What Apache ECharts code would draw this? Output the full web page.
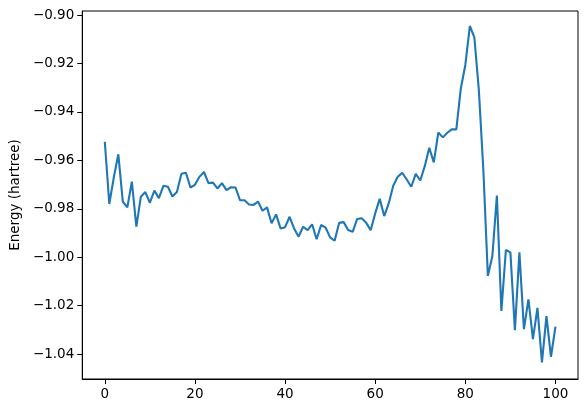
<!DOCTYPE html>
<html>
<head>
<meta charset="utf-8">
<script src="https://cdn.jsdelivr.net/npm/echarts@6/dist/echarts.min.js"></script>
<style>
html,body{margin:0;padding:0;background:#fff;}
#chart{width:587px;height:413px;}
</style>
</head>
<body>
<div id="chart"></div>
<script>
const steps = Array.from({length: 101}, (_, i) => i);
const energy = [
  -0.9523, -0.9780, -0.9670, -0.9575, -0.9771, -0.9794, -0.9688, -0.9874, -0.9750, -0.9731,
  -0.9775, -0.9725, -0.9756, -0.9705, -0.9709, -0.9749, -0.9731, -0.9655, -0.9651, -0.9712,
  -0.9701, -0.9668, -0.9648, -0.9694, -0.9692, -0.9716, -0.9694, -0.9723, -0.9711, -0.9712,
  -0.9764, -0.9765, -0.9782, -0.9784, -0.9770, -0.9808, -0.9794, -0.9860, -0.9823, -0.9881,
  -0.9876, -0.9833, -0.9881, -0.9915, -0.9874, -0.9888, -0.9864, -0.9926, -0.9867, -0.9878,
  -0.9918, -0.9932, -0.9858, -0.9855, -0.9888, -0.9895, -0.9842, -0.9839, -0.9858, -0.9888,
  -0.9819, -0.9759, -0.9830, -0.9778, -0.9705, -0.9668, -0.9651, -0.9679, -0.9709, -0.9656,
  -0.9683, -0.9624, -0.9548, -0.9608, -0.9485, -0.9505, -0.9486, -0.9472, -0.9472, -0.9303,
  -0.9206, -0.9045, -0.9092, -0.9310, -0.9640, -1.0077, -0.9995, -0.9745, -1.0222, -0.9970,
  -0.9980, -1.0301, -0.9980, -1.0297, -1.0174, -1.0338, -1.0209, -1.0434, -1.0243, -1.0411,
  -1.0287
];
const xTicks = [0, 20, 40, 60, 80, 100];
const yTicks = [-1.04, -1.02, -1.00, -0.98, -0.96, -0.94, -0.92, -0.90];
const yLabel = 'Energy (hartree)';

const chart = echarts.init(document.getElementById('chart'), null, {renderer: 'canvas'});
const fmtY = v => (v < 0 ? '\u2212' : '') + Math.abs(v).toFixed(2);
const font = 'DejaVu Sans';
chart.setOption({
  animation: false,
  backgroundColor: '#ffffff',
  grid: {left: 82, right: 9, top: 11, bottom: 34, show: true, borderColor: '#000', borderWidth: 1, backgroundColor: 'transparent'},
  xAxis: {
    type: 'value', min: -5, max: 105,
    splitLine: {show: false},
    axisLine: {show: true, onZero: false, lineStyle: {color: '#000', width: 1}},
    axisTick: {show: true, length: 5, lineStyle: {color: '#000'}, customValues: xTicks},
    axisLabel: {customValues: xTicks, color: '#000', fontFamily: font, fontSize: 13.5, margin: 8, formatter: v => String(v)}
  },
  yAxis: {
    type: 'value', min: -1.0503, max: -0.8983,
    name: yLabel, nameLocation: 'middle', nameGap: 60,
    nameTextStyle: {color: '#000', fontFamily: font, fontSize: 13.5},
    splitLine: {show: false},
    axisLine: {show: true, onZero: false, lineStyle: {color: '#000', width: 1}},
    axisTick: {show: true, length: 5, lineStyle: {color: '#000'}, customValues: yTicks},
    axisLabel: {customValues: yTicks, color: '#000', fontFamily: font, fontSize: 13.5, margin: 8, formatter: fmtY}
  },
  series: [{
    type: 'line',
    data: steps.map((s, i) => [s, energy[i]]),
    showSymbol: false,
    symbol: 'none',
    lineStyle: {color: '#1f77b4', width: 2.1},
    itemStyle: {color: '#1f77b4'}
  }]
});
</script>
</body>
</html>
